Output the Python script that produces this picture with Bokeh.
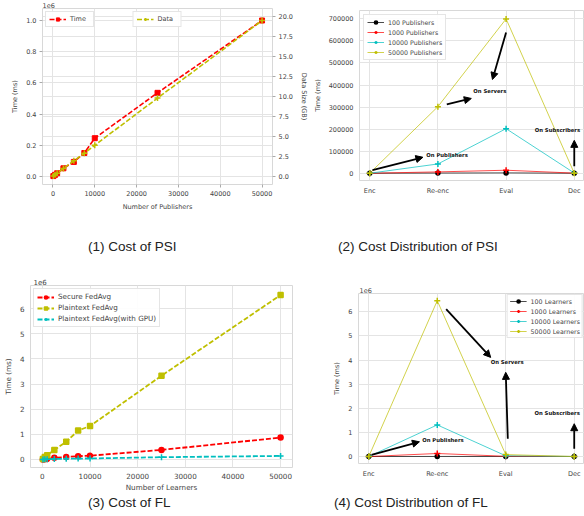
import numpy as np
from bokeh.plotting import figure
from bokeh.models import (LinearAxis, Range1d, FixedTicker, Legend, LegendItem,
                          Label, Arrow, NormalHead, Grid, NumeralTickFormatter, Div)
from bokeh.layouts import column, row
from bokeh.embed import file_html
from bokeh.resources import INLINE

# ---------------- data ----------------
publishers = [100, 500, 1000, 2500, 5000, 7500, 10000, 25000, 50000]
psi_time_ms = [2000, 10000, 20000, 52000, 93000, 150000, 245000, 536000, 1000000]
psi_data_gb = [0.04, 0.2, 0.4, 1.0, 1.95, 2.9, 3.9, 9.8, 19.5]

stages = ["Enc", "Re-enc", "Eval", "Dec"]
psi_dist_labels = ["100 Publishers", "1000 Publishers", "10000 Publishers", "50000 Publishers"]
psi_dist_100 = [0, 800, 1500, 0]
psi_dist_1000 = [0, 6000, 13600, 500]
psi_dist_10000 = [0, 42000, 202000, 1000]
psi_dist_50000 = [0, 302000, 700000, 0]

learners = [100, 500, 1000, 2500, 5000, 7500, 10000, 25000, 50000]
fl_secure_ms = [2000, 10000, 20000, 65000, 100000, 130000, 150000, 380000, 870000]
fl_plain_ms = [20000, 100000, 170000, 380000, 700000, 1150000, 1330000, 3330000, 6540000]
fl_gpu_ms = [1000, 5000, 10000, 20000, 30000, 35000, 40000, 90000, 140000]

fl_dist_labels = ["100 Learners", "1000 Learners", "10000 Learners", "50000 Learners"]
fl_dist_100 = [0, 2000, 1000, 0]
fl_dist_1000 = [0, 125000, 10000, 0]
fl_dist_10000 = [0, 1310000, 30000, 0]
fl_dist_50000 = [0, 6460000, 80000, 0]

captions = ["(1) Cost of PSI", "(2) Cost Distribution of PSI", "(3) Cost of FL", "(4) Cost Distribution of FL"]

# ---------------- styling helpers ----------------
FONT = "DejaVu Sans"
GRID = "#e4e4e4"
TXT = "#444444"
RED, OLIVE, CYAN, BLACK = "#ff0000", "#bfbf00", "#00bfbf", "#000000"


def style_axis(ax, fs, ticks=False):
    ax.axis_line_color = None
    ax.major_tick_line_color = "#aaaaaa" if ticks else None
    ax.major_tick_out = 3
    ax.major_tick_in = 0
    ax.minor_tick_line_color = None
    ax.major_label_text_font = FONT
    ax.major_label_text_font_size = fs
    ax.major_label_text_color = TXT
    ax.major_label_standoff = 3
    ax.axis_label_text_font = FONT
    ax.axis_label_text_font_size = fs
    ax.axis_label_text_font_style = "normal"
    ax.axis_label_text_color = TXT
    ax.axis_label_standoff = 4


def base(width, height, xr, yr, mb, fs, ticks=False, exp_offset=None):
    p = figure(width=width, height=height, x_range=Range1d(*xr), y_range=Range1d(*yr),
               output_backend="svg", toolbar_location=None,
               min_border_left=mb[0], min_border_right=mb[1],
               min_border_top=mb[2], min_border_bottom=mb[3])
    p.outline_line_color = "#d8d8d8"
    p.xgrid.grid_line_color = GRID
    p.ygrid.grid_line_color = GRID
    for ax in p.axis:
        style_axis(ax, fs, ticks)
    if exp_offset is not None:
        p.title.text = "1e6"
        p.title.align = "left"
        p.title.offset = exp_offset
        p.title.standoff = 1
        p.title.text_font = FONT
        p.title.text_font_size = "6.5px"
        p.title.text_font_style = "normal"
        p.title.text_color = TXT
    return p


def add_legend(p, items, loc, fs, margin=3, padding=3):
    lg = Legend(items=items, location=loc, label_text_font=FONT, label_text_font_size=fs,
                label_text_color=TXT, glyph_width=17, glyph_height=8, label_height=8,
                label_standoff=4, spacing=2, padding=padding, margin=margin,
                border_line_color="#cccccc", background_fill_alpha=0.9)
    p.add_layout(lg, "center")


def caption_div(text, width, height, pad):
    html = ('<div style="padding-left:%dpx;font-family:\'Liberation Sans\';font-size:13.5px;'
            'line-height:%dpx;color:#222222;white-space:nowrap;">%s</div>' % (pad, height, text))
    return Div(text=html, width=width, height=height, margin=0)


def annotate(p, text, tx, ty, x0, y0, x1, y1):
    if text:
        p.add_layout(Label(x=tx, y=ty, text=text, text_font=FONT, text_font_size="5.3px",
                           text_font_style="bold", text_color="#111111",
                           text_baseline="middle"))
    p.add_layout(Arrow(end=NormalHead(size=7, fill_color="black", line_color="black"),
                       x_start=x0, y_start=y0, x_end=x1, y_end=y1,
                       line_color="black", line_width=1.8))


xticks_pub = [0, 10000, 20000, 30000, 40000, 50000]
LW, RW = 310, 274      # panel widths
TH, BH = 238, 238      # panel heights

# ---------------- (1) Cost of PSI ----------------
p1 = base(LW, TH, (-2500, 52500), (-0.052, 1.077), (42, 32, 0, 54), "6.5px", ticks=True, exp_offset=0)
p1.extra_y_ranges = {"data": Range1d(-1.01, 21.01)}
rax = LinearAxis(y_range_name="data", axis_label="Data Size (GB)",
                 ticker=FixedTicker(ticks=[0, 2.5, 5, 7.5, 10, 12.5, 15, 17.5, 20]),
                 formatter=NumeralTickFormatter(format="0.0"))
style_axis(rax, "6.5px", ticks=True)
p1.add_layout(rax, "right")
p1.add_layout(Grid(dimension=1, ticker=FixedTicker(ticks=[0, 2.5, 5, 7.5, 10, 12.5, 15, 17.5, 20]),
                   y_range_name="data", grid_line_color=GRID))
p1.xaxis.ticker = FixedTicker(ticks=xticks_pub)
p1.xaxis.formatter = NumeralTickFormatter(format="0")
p1.xaxis.axis_label = "Number of Publishers"
p1.yaxis[0].ticker = FixedTicker(ticks=[0, 0.2, 0.4, 0.6, 0.8, 1.0])
p1.yaxis[0].formatter = NumeralTickFormatter(format="0.0")
p1.yaxis[0].axis_label = "Time (ms)"
t_scaled = np.array(psi_time_ms) / 1e6
l1 = p1.line(publishers, t_scaled, line_color=RED, line_dash="5 2", line_width=1.6)
s1 = p1.scatter(publishers, t_scaled, marker="square", size=5, color=RED)
l2 = p1.line(publishers, psi_data_gb, line_color=OLIVE, line_dash="5 2", line_width=1.6, y_range_name="data")
s2 = p1.scatter(publishers, psi_data_gb, marker="cross", size=6, line_width=1.5, color=OLIVE, y_range_name="data")
add_legend(p1, [LegendItem(label="Time", renderers=[l1, s1])], "top_left", "6.5px", margin=3)
add_legend(p1, [LegendItem(label="Data", renderers=[l2, s2])], "top", "6.5px", margin=3)

# ---------------- (2) Cost Distribution of PSI ----------------
xs = list(range(len(stages)))
p2 = base(RW, TH, (-0.15, 3.15), (-33000, 738000), (48, 0, 10, 58), "6.5px")
p2.xaxis.ticker = FixedTicker(ticks=xs)
p2.xaxis.major_label_overrides = {i: s for i, s in enumerate(stages)}
p2.yaxis.ticker = FixedTicker(ticks=list(range(0, 700001, 100000)))
p2.yaxis.formatter = NumeralTickFormatter(format="0")
p2.yaxis.axis_label = "Time (ms)"
items = []
for lab, vals, col, mk, sz in zip(psi_dist_labels,
                                  [psi_dist_100, psi_dist_1000, psi_dist_10000, psi_dist_50000],
                                  [BLACK, RED, CYAN, OLIVE],
                                  ["circle", "cross", "cross", "cross"], [4, 6, 6, 6]):
    lr = p2.line(xs, vals, line_color=col, line_width=1, line_alpha=0.7)
    sr = p2.scatter(xs, vals, marker=mk, size=sz, color=col, line_width=1.5)
    items.append(LegendItem(label=lab, renderers=[lr, sr]))
add_legend(p2, items, "top_left", "6.3px", margin=4)
annotate(p2, "On Publishers", 0.83, 81000, 0.04, 13600, 0.78, 72400)
annotate(p2, "On Servers", 1.52, 371000, 1.13, 312000, 1.49, 339000)
annotate(p2, "", 0, 0, 2.0, 638000, 1.80, 425000)
annotate(p2, "On Subscribers", 2.42, 194600, 3.0, 31700, 3.0, 149000)

# ---------------- (3) Cost of FL ----------------
p3 = base(LW, BH, (-2500, 52500), (-0.32, 6.92), (29, 18, 29, 26), "7.2px", exp_offset=3)
p3.title.text_font_size = "7px"
p3.xaxis.ticker = FixedTicker(ticks=xticks_pub)
p3.xaxis.formatter = NumeralTickFormatter(format="0")
p3.xaxis.axis_label = "Number of Learners"
p3.xaxis.major_label_standoff = 2
p3.xaxis.axis_label_standoff = 1
p3.yaxis.ticker = FixedTicker(ticks=[0, 1, 2, 3, 4, 5, 6])
p3.yaxis.axis_label = "Time (ms)"
items = []
for lab, vals, col, mk, sz in zip(["Secure FedAvg", "Plaintext FedAvg", "Plaintext FedAvg(with GPU)"],
                                  [fl_secure_ms, fl_plain_ms, fl_gpu_ms],
                                  [RED, OLIVE, CYAN], ["circle", "square", "cross"], [5, 5, 6]):
    v = np.array(vals) / 1e6
    lr = p3.line(learners, v, line_color=col, line_dash="5 2", line_width=1.8)
    sr = p3.scatter(learners, v, marker=mk, size=sz, color=col, line_width=1.5)
    items.append(LegendItem(label=lab, renderers=[lr, sr]))
add_legend(p3, items, "top_left", "7.2px", margin=3)

# ---------------- (4) Cost Distribution of FL ----------------
p4 = base(RW, BH, (-0.15, 3.15), (-0.29, 6.76), (48, 0, 37, 31), "6.5px", exp_offset=1)
p4.xaxis.ticker = FixedTicker(ticks=xs)
p4.xaxis.major_label_overrides = {i: s for i, s in enumerate(stages)}
p4.yaxis.ticker = FixedTicker(ticks=[0, 1, 2, 3, 4, 5, 6])
p4.yaxis.axis_label = "Time (ms)"
items = []
for lab, vals, col, mk, sz in zip(fl_dist_labels,
                                  [fl_dist_100, fl_dist_1000, fl_dist_10000, fl_dist_50000],
                                  [BLACK, RED, CYAN, OLIVE],
                                  ["circle", "cross", "cross", "cross"], [4, 6, 6, 6]):
    v = np.array(vals) / 1e6
    lr = p4.line(xs, v, line_color=col, line_width=1, line_alpha=0.7)
    sr = p4.scatter(xs, v, marker=mk, size=sz, color=col, line_width=1.5)
    items.append(LegendItem(label=lab, renderers=[lr, sr]))
add_legend(p4, items, "top_right", "6.3px", margin=1, padding=2)
annotate(p4, "On Publishers", 0.78, 0.70, 0.04, 0.07, 0.74, 0.61)
annotate(p4, "On Servers", 1.78, 3.90, 1.13, 6.11, 1.78, 4.11)
annotate(p4, "", 0, 0, 2.03, 0.74, 2.0, 3.49)
annotate(p4, "On Subscribers", 2.42, 1.82, 3.0, 0.32, 3.0, 1.36)

# ---------------- captions & layout ----------------
cap_row1 = row(caption_div(captions[0], LW, 18, 88), caption_div(captions[1], RW, 18, 28))
cap_row2 = row(caption_div(captions[2], LW, 18, 88), caption_div(captions[3], RW, 18, 24))

# each plot wrapped in its own column so that frames are not aligned across a row
layout = column(row(column(p1), column(p2)), cap_row1,
                row(column(p3), column(p4)), cap_row2)
open("out.html", "w").write(file_html(layout, INLINE))
